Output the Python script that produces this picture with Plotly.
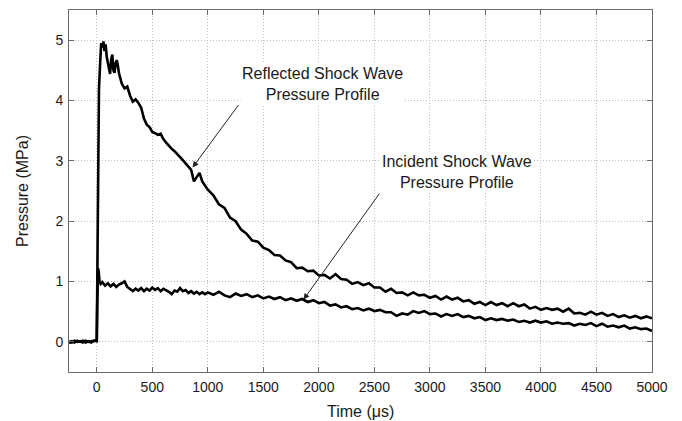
import plotly.graph_objects as go

# ---- data (time in µs, pressure in MPa) ----
time_ref = [-250, -225, -200, -175, -150, -125, -100, -75, -50, -25,
            0, 5, 10, 15, 20, 30, 40, 50, 60, 70, 80, 90, 100, 110, 120, 130, 140, 150, 160, 170, 180, 190,
            200, 225, 250, 275, 300, 325, 350, 375, 400, 425, 450, 475, 500, 525, 550, 575, 600, 625, 650,
            675, 700, 725, 750, 775, 800, 825, 850, 875, 900, 925, 950, 975,
            1000, 1050, 1100, 1150, 1200, 1250, 1300, 1350, 1400, 1450, 1500, 1550, 1600, 1650, 1700, 1750,
            1800, 1850, 1900, 1950, 2000, 2050, 2100, 2150, 2200, 2250, 2300, 2350, 2400, 2450, 2500, 2550,
            2600, 2650, 2700, 2750, 2800, 2850, 2900, 2950, 3000, 3050, 3100, 3150, 3200, 3250, 3300, 3350,
            3400, 3450, 3500, 3550, 3600, 3650, 3700, 3750, 3800, 3850, 3900, 3950, 4000, 4050, 4100, 4150,
            4200, 4250, 4300, 4350, 4400, 4450, 4500, 4550, 4600, 4650, 4700, 4750, 4800, 4850, 4900, 4950, 5000]
p_ref = [-0.02, 0.01, -0.01, 0.02, 0.0, 0.02, -0.01, 0.01, -0.01, 0.02,
         0.01, 1.2, 3.4, 3.9, 4.2, 4.6, 4.95, 4.88, 4.98, 4.82, 4.93, 4.72, 4.62, 4.48, 4.44, 4.68, 4.76, 4.5, 4.46, 4.62, 4.67, 4.58,
         4.45, 4.28, 4.2, 4.23, 4.08, 3.98, 4.02, 3.96, 3.88, 3.7, 3.6, 3.56, 3.48, 3.46, 3.43, 3.45, 3.36, 3.3, 3.24,
         3.2, 3.16, 3.1, 3.06, 3.01, 2.95, 2.91, 2.85, 2.66, 2.74, 2.8, 2.66, 2.59,
         2.52, 2.43, 2.28, 2.22, 2.06, 2.0, 1.86, 1.79, 1.68, 1.66, 1.56, 1.52, 1.44, 1.43, 1.35, 1.32,
         1.22, 1.23, 1.17, 1.18, 1.1, 1.11, 1.05, 1.12, 1.04, 1.03, 0.96, 0.99, 0.94, 0.97, 0.9, 0.9,
         0.83, 0.88, 0.81, 0.82, 0.77, 0.82, 0.77, 0.78, 0.73, 0.76, 0.7, 0.75, 0.7, 0.73, 0.67, 0.69,
         0.63, 0.66, 0.61, 0.66, 0.61, 0.64, 0.59, 0.64, 0.59, 0.62, 0.55, 0.58, 0.53, 0.56, 0.53, 0.55,
         0.5, 0.55, 0.47, 0.48, 0.45, 0.5, 0.45, 0.48, 0.43, 0.46, 0.41, 0.44, 0.4, 0.43, 0.39, 0.42, 0.39]

time_inc = [-250, -225, -200, -175, -150, -125, -100, -75, -50, -25,
            0, 4, 8, 12, 18, 25, 35, 50, 75, 100, 125, 150, 175, 200, 225, 250, 275, 300, 325, 350, 375,
            400, 425, 450, 475, 500, 525, 550, 575, 600, 625, 650, 675, 700, 725, 750, 775, 800, 825, 850,
            875, 900, 925, 950, 975,
            1000, 1050, 1100, 1150, 1200, 1250, 1300, 1350, 1400, 1450, 1500, 1550, 1600, 1650, 1700, 1750,
            1800, 1850, 1900, 1950, 2000, 2050, 2100, 2150, 2200, 2250, 2300, 2350, 2400, 2450, 2500, 2550,
            2600, 2650, 2700, 2750, 2800, 2850, 2900, 2950, 3000, 3050, 3100, 3150, 3200, 3250, 3300, 3350,
            3400, 3450, 3500, 3550, 3600, 3650, 3700, 3750, 3800, 3850, 3900, 3950, 4000, 4050, 4100, 4150,
            4200, 4250, 4300, 4350, 4400, 4450, 4500, 4550, 4600, 4650, 4700, 4750, 4800, 4850, 4900, 4950, 5000]
p_inc = [0.01, -0.01, 0.02, 0.0, 0.01, -0.01, 0.02, 0.0, 0.01, 0.02,
         0.02, 0.6, 1.05, 1.22, 1.15, 1.0, 0.96, 0.99, 0.93, 0.97, 0.92, 0.96, 0.91, 0.95, 0.97, 1.0, 0.91, 0.87, 0.84, 0.88, 0.85,
         0.89, 0.84, 0.88, 0.85, 0.9, 0.86, 0.89, 0.84, 0.88, 0.86, 0.83, 0.79, 0.85, 0.83, 0.89, 0.84, 0.86, 0.81, 0.84,
         0.8, 0.83, 0.79, 0.82, 0.79,
         0.82, 0.78, 0.83, 0.77, 0.74, 0.8, 0.76, 0.79, 0.74, 0.77, 0.72, 0.75, 0.71, 0.74, 0.69, 0.72,
         0.68, 0.71, 0.66, 0.69, 0.64, 0.66, 0.6, 0.62, 0.57, 0.59, 0.54, 0.56, 0.52, 0.55, 0.51, 0.53,
         0.49, 0.49, 0.43, 0.47, 0.45, 0.51, 0.48, 0.51, 0.46, 0.47, 0.42, 0.46, 0.43, 0.46, 0.41, 0.43,
         0.39, 0.41, 0.36, 0.39, 0.36, 0.38, 0.35, 0.37, 0.33, 0.35, 0.32, 0.35, 0.32, 0.34, 0.3, 0.32,
         0.3, 0.31, 0.27, 0.3, 0.28, 0.31, 0.26, 0.3, 0.25, 0.27, 0.24, 0.27, 0.22, 0.24, 0.21, 0.22, 0.18]

x_ticks = [0, 500, 1000, 1500, 2000, 2500, 3000, 3500, 4000, 4500, 5000]
y_ticks = [0, 1, 2, 3, 4, 5]

label_reflected = "Reflected Shock Wave<br>Pressure Profile"
label_incident = "Incident Shock Wave<br>Pressure Profile"
x_title = "Time (μs)"
y_title = "Pressure (MPa)"

FONT = "Liberation Sans, Arial, Helvetica, sans-serif"
TXT = "#1a1a1a"

fig = go.Figure()
fig.add_trace(go.Scatter(x=time_ref, y=p_ref, mode="lines",
                         line=dict(color="black", width=2.6), showlegend=False))
fig.add_trace(go.Scatter(x=time_inc, y=p_inc, mode="lines",
                         line=dict(color="black", width=2.6), showlegend=False))

axis_common = dict(
    showline=True, linecolor="#6a6a6a", linewidth=1, mirror="ticks",
    ticks="inside", ticklen=5, tickcolor="#6a6a6a", tickwidth=1,
    showgrid=True, gridcolor="#bdbdbd", griddash="1px,2px", gridwidth=1,
    zeroline=False, automargin=False, tickfont=dict(family=FONT, size=14, color=TXT),
)

fig.update_xaxes(range=[-250, 5000], tickvals=x_ticks, ticklabelstandoff=2, **axis_common)
fig.update_yaxes(range=[-0.5, 5.5], tickvals=y_ticks, ticklabelstandoff=2, **axis_common)

# axis titles placed in paper coordinates
fig.add_annotation(x=0.5, y=-0.108, xref="paper", yref="paper", yanchor="middle", text=x_title,
                   showarrow=False, font=dict(family=FONT, size=16, color=TXT))
fig.add_annotation(x=-0.0806, y=0.5, xref="paper", yref="paper", xanchor="center", text=y_title,
                   textangle=-90, showarrow=False, font=dict(family=FONT, size=16, color=TXT))

# text labels (white boxes) and arrows
fig.add_annotation(x=2037, y=4.28, xref="x", yref="y", text=label_reflected, showarrow=False,
                   font=dict(family=FONT, size=16, color=TXT), bgcolor="white", align="center")
fig.add_annotation(x=3243, y=2.82, xref="x", yref="y", text=label_incident, showarrow=False,
                   font=dict(family=FONT, size=16, color=TXT), bgcolor="white", align="center")
fig.add_annotation(x=863, y=2.89, ax=1286, ay=3.95, xref="x", yref="y", axref="x", ayref="y",
                   text="", showarrow=True, arrowhead=2, arrowsize=1.2, arrowwidth=1, arrowcolor="#222")
fig.add_annotation(x=1862, y=0.70, ax=2554, ay=2.48, xref="x", yref="y", axref="x", ayref="y",
                   text="", showarrow=True, arrowhead=2, arrowsize=1.2, arrowwidth=1, arrowcolor="#222")

# the page adds an 8px body margin, so the figure is sized to fit the remaining window area
fig.update_layout(
    width=674, height=413,
    margin=dict(l=61, r=30, t=2, b=49),
    plot_bgcolor="white", paper_bgcolor="white",
    font=dict(family=FONT, color=TXT),
)

fig.write_html("out.html")
